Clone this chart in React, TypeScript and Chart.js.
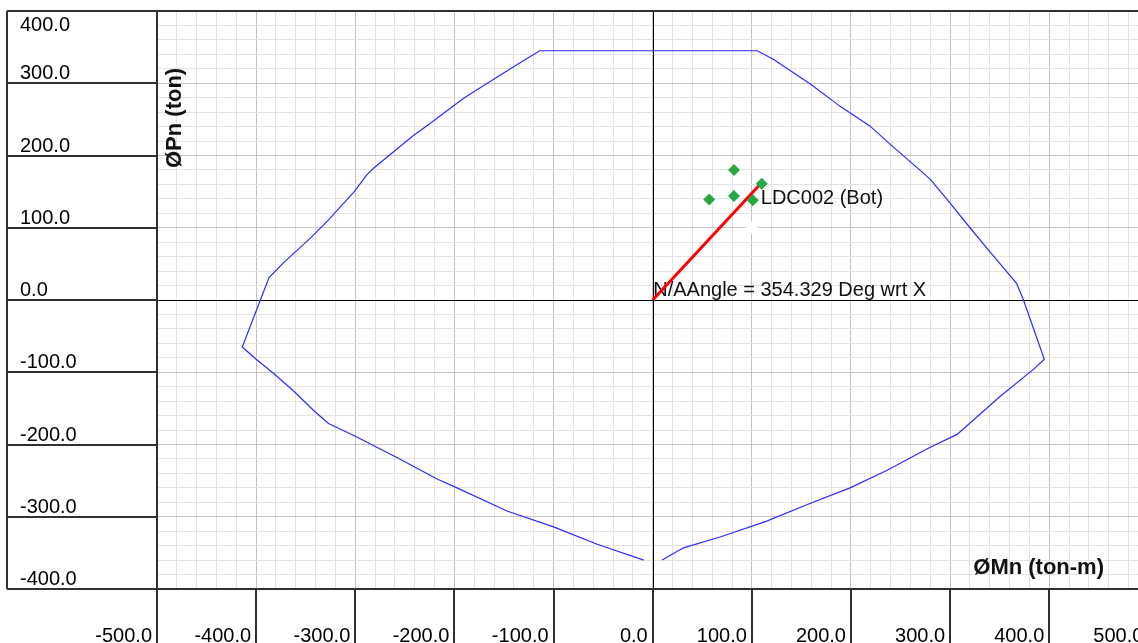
import React, { useEffect, useRef } from "react";
import { Chart, registerables } from "chart.js";

Chart.register(...registerables);

// ---- Axis ticks / labels ----
const xTickValues = [-500, -400, -300, -200, -100, 0, 100, 200, 300, 400, 500];
const xTickLabels = ["-500.0", "-400.0", "-300.0", "-200.0", "-100.0", "0.0", "100.0", "200.0", "300.0", "400.0", "500.0"];
const yTickValues = [400, 300, 200, 100, 0, -100, -200, -300, -400];
const yTickLabels = ["400.0", "300.0", "200.0", "100.0", "0.0", "-100.0", "-200.0", "-300.0", "-400.0"];

const X_MIN = -500;
const X_MAX = 489.5;
const Y_MIN = -400;
const Y_MAX = 400;

// ---- Interaction curve (ØMn, ØPn) ----
const curveMn = [
  -9, -56, -100, -147, -199, -217, -258, -301, -327, -342, -363, -382, -400, -414,
  -387, -372, -345, -327, -301, -288, -281, -242, -227, -190, -160, -133, -114,
  105.5, 122, 159, 189, 219, 240, 271, 280, 300, 320, 340, 367, 374, 395, 384, 350,
  307, 277, 236, 199, 156, 115, 68, 31, 9.5,
];
const curvePn = [
  -360, -338, -314, -292, -259, -248, -218, -188, -171, -153, -125, -102, -82, -65,
  31, 52, 86, 111, 150, 174, 183, 227, 242, 280, 306, 329, 345,
  345, 333, 299, 268, 241, 215, 178, 167, 134, 100, 67, 23, 0, -82, -96, -134,
  -186, -206, -236, -260, -283, -306, -328, -343, -360,
];

// ---- Load points ----
const loadMn = [82, 110, 57, 82, 101];
const loadPn = [180, 161, 139, 144, 138];
const loadLabelIndex = 1;
const loadLabel = "LDC002 (Bot)";

// ---- Neutral axis line ----
const naMn = [0, 107];
const naPn = [0, 158];
const angleLabel = "N/AAngle = 354.329 Deg wrt X";

// ---- White marker ----
const markMn = [100];
const markPn = [100];

const xTitle = "ØMn (ton-m)";
const yTitle = "ØPn (ton)";

const FONT = '"Liberation Sans", Arial, sans-serif';

const zip = (xs: number[], ys: number[]) => xs.map((x, i) => ({ x, y: ys[i] }));

const gridColor = (c: any) => {
  const v = c.tick ? c.tick.value : 1;
  return Math.abs(v % 100) < 1e-6 ? "#c4c4c4" : "#e3e3e3";
};

const framePlugin = {
  id: "frame",
  beforeDatasetsDraw(chart: any) {
    const { ctx, chartArea: a, scales } = chart;
    const xs = scales.x;
    const ys = scales.y;
    ctx.save();
    ctx.beginPath();
    ctx.rect(a.left, a.top, a.right - a.left, a.bottom - a.top);
    ctx.clip();
    // origin lines
    ctx.strokeStyle = "#000";
    ctx.lineWidth = 1;
    const x0 = Math.round(xs.getPixelForValue(0)) + 0.5;
    const y0 = Math.round(ys.getPixelForValue(0)) + 0.5;
    ctx.beginPath();
    ctx.moveTo(x0, a.top);
    ctx.lineTo(x0, a.bottom);
    ctx.moveTo(a.left, y0);
    ctx.lineTo(a.right, y0);
    ctx.stroke();

    // annotations
    ctx.fillStyle = "#111";
    ctx.font = `20px ${FONT}`;
    ctx.textAlign = "left";
    ctx.textBaseline = "alphabetic";
    const lx = xs.getPixelForValue(loadMn[loadLabelIndex]);
    const ly = ys.getPixelForValue(loadPn[loadLabelIndex]);
    ctx.fillText(loadLabel, lx - 1, ly + 20);
    ctx.fillText(angleLabel, xs.getPixelForValue(naMn[0]) + 0.5, ys.getPixelForValue(naPn[0]) - 4);

    // axis titles
    ctx.font = `bold 22px ${FONT}`;
    ctx.textAlign = "right";
    ctx.fillText(xTitle, a.right - 34, a.bottom - 15);
    ctx.save();
    ctx.translate(a.left + 24, a.top + 157);
    ctx.rotate(-Math.PI / 2);
    ctx.textAlign = "left";
    ctx.fillText(yTitle, 0, 0);
    ctx.restore();
    ctx.restore();
  },
  afterDraw(chart: any) {
    const { ctx, chartArea: a, scales, width: W, height: H } = chart;
    const xs = scales.x;
    const ys = scales.y;
    const leftEdge = 7;
    ctx.save();
    ctx.strokeStyle = "#303030";
    ctx.lineWidth = 2;
    const line = (x1: number, y1: number, x2: number, y2: number) => {
      ctx.beginPath();
      ctx.moveTo(x1, y1);
      ctx.lineTo(x2, y2);
      ctx.stroke();
    };
    line(leftEdge, a.top, W, a.top);
    line(leftEdge, a.bottom, W, a.bottom);
    line(leftEdge, a.top, leftEdge, a.bottom);
    line(a.left, a.top, a.left, H);
    yTickValues.forEach((v) => {
      if (v !== Y_MAX && v !== Y_MIN) {
        const py = Math.round(ys.getPixelForValue(v));
        line(leftEdge, py, a.left, py);
      }
    });
    xTickValues.forEach((v) => {
      const px = Math.round(xs.getPixelForValue(v));
      line(px, a.bottom, px, H);
    });

    ctx.fillStyle = "#000";
    ctx.font = `20px ${FONT}`;
    ctx.textBaseline = "alphabetic";
    ctx.textAlign = "left";
    yTickValues.forEach((v, i) => {
      const py = ys.getPixelForValue(v);
      const base = v === Y_MAX ? py + 20 : py - 4;
      ctx.fillText(yTickLabels[i], 20, base);
    });
    ctx.textAlign = "right";
    xTickValues.forEach((v, i) => {
      const px = xs.getPixelForValue(v);
      ctx.fillText(xTickLabels[i], px - 5, H - 1);
    });
    ctx.restore();
  },
};

export default function App() {
  const ref = useRef<HTMLCanvasElement>(null);
  useEffect(() => {
    document.body.style.margin = "0";
    Chart.defaults.font.family = FONT;
    const chart = new Chart(ref.current as HTMLCanvasElement, {
      type: "scatter",
      data: {
        datasets: [
          {
            label: "Loads",
            data: zip(loadMn, loadPn),
            pointStyle: "rectRot",
            pointRadius: 6,
            backgroundColor: "#27a844",
            borderColor: "#27a844",
            borderWidth: 0,
            showLine: false,
          },
          {
            label: "N/A",
            data: zip(naMn, naPn),
            showLine: true,
            borderColor: "#ff0000",
            borderWidth: 3,
            pointRadius: 0,
          },
          {
            label: "Mark",
            data: zip(markMn, markPn),
            pointStyle: "cross",
            pointRadius: 6,
            borderColor: "#ffffff",
            borderWidth: 3,
            showLine: false,
          },
          {
            label: "Curve",
            data: zip(curveMn, curvePn),
            showLine: true,
            borderColor: "#2b2bff",
            borderWidth: 1.2,
            pointRadius: 0,
            tension: 0,
          },
        ],
      },
      options: {
        responsive: false,
        animation: false,
        devicePixelRatio: 1,
        events: [],
        layout: { autoPadding: false, padding: { left: 157, top: 11, right: 0, bottom: 54 } },
        plugins: { legend: { display: false }, tooltip: { enabled: false } },
        scales: {
          x: {
            type: "linear",
            min: X_MIN,
            max: X_MAX,
            ticks: { display: false, stepSize: 20, includeBounds: false, autoSkip: false },
            grid: { drawTicks: false, color: gridColor, lineWidth: 1 },
            border: { display: false },
          },
          y: {
            type: "linear",
            min: Y_MIN,
            max: Y_MAX,
            ticks: { display: false, stepSize: 20, includeBounds: false, autoSkip: false },
            grid: { drawTicks: false, color: gridColor, lineWidth: 1 },
            border: { display: false },
          },
        },
      },
      plugins: [framePlugin],
    } as any);
    return () => chart.destroy();
  }, []);
  return (
    <div style={{ width: 1138, height: 643 }}>
      <canvas ref={ref} width={1138} height={643} style={{ display: "block", width: 1138, height: 643 }} />
    </div>
  );
}
